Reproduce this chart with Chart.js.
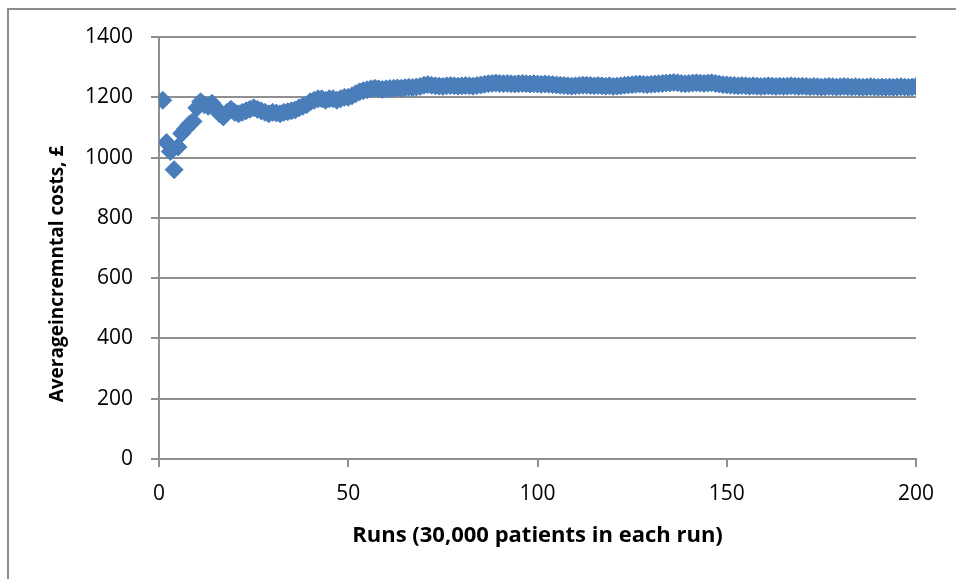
<!DOCTYPE html>
<html>
<head>
<meta charset="utf-8">
<script src="https://cdn.jsdelivr.net/npm/chart.js@4/dist/chart.umd.min.js"></script>
<style>
  html, body { margin: 0; padding: 0; background: #fff; overflow: hidden; }
  #wrap { position: relative; width: 956px; height: 579px; }
  #frame { position: absolute; left: 7px; top: 8px; width: 1000px; height: 700px;
           border-left: 2px solid #8c8c8c; border-top: 2px solid #8c8c8c; }
  canvas { position: absolute; left: 0; top: 0; }
</style>
</head>
<body>
<div id="wrap">
  <div id="frame"></div>
  <canvas id="chart" width="956" height="579"></canvas>
</div>
<script>
var runs = [
  1, 2, 3, 4, 5, 6, 7, 8, 9, 10, 11, 12, 13, 14, 15, 16, 17, 18, 19, 20,
  21, 22, 23, 24, 25, 26, 27, 28, 29, 30, 31, 32, 33, 34, 35, 36, 37, 38, 39, 40,
  41, 42, 43, 44, 45, 46, 47, 48, 49, 50, 51, 52, 53, 54, 55, 56, 57, 58, 59, 60,
  61, 62, 63, 64, 65, 66, 67, 68, 69, 70, 71, 72, 73, 74, 75, 76, 77, 78, 79, 80,
  81, 82, 83, 84, 85, 86, 87, 88, 89, 90, 91, 92, 93, 94, 95, 96, 97, 98, 99, 100,
  101, 102, 103, 104, 105, 106, 107, 108, 109, 110, 111, 112, 113, 114, 115, 116, 117, 118, 119, 120,
  121, 122, 123, 124, 125, 126, 127, 128, 129, 130, 131, 132, 133, 134, 135, 136, 137, 138, 139, 140,
  141, 142, 143, 144, 145, 146, 147, 148, 149, 150, 151, 152, 153, 154, 155, 156, 157, 158, 159, 160,
  161, 162, 163, 164, 165, 166, 167, 168, 169, 170, 171, 172, 173, 174, 175, 176, 177, 178, 179, 180,
  181, 182, 183, 184, 185, 186, 187, 188, 189, 190, 191, 192, 193, 194, 195, 196, 197, 198, 199, 200
];

// average incremental cost after each run
var avgCost = [
  1190, 1050, 1020, 960, 1035, 1080, 1095, 1110, 1120, 1165,
  1185, 1175, 1170, 1180, 1165, 1145, 1135, 1150, 1160, 1150,
  1145, 1150, 1155, 1160, 1165, 1160, 1155, 1150, 1145, 1150,
  1148, 1145, 1150, 1152, 1155, 1158, 1165, 1170, 1175, 1185,
  1190, 1195, 1195, 1190, 1195, 1195, 1190, 1195, 1200, 1200,
  1205, 1212, 1218, 1222, 1225, 1228, 1230, 1228, 1226, 1228,
  1229, 1230, 1231, 1230, 1232, 1233, 1232, 1234, 1236, 1240,
  1242, 1240, 1238, 1237, 1236, 1238, 1239, 1238, 1237, 1238,
  1239, 1238, 1237, 1239, 1241, 1243, 1245, 1246, 1247, 1246,
  1245, 1246, 1245, 1244, 1245, 1246, 1245, 1244, 1245, 1244,
  1243, 1244, 1243, 1242, 1241, 1240, 1239, 1238, 1237, 1238,
  1239, 1240, 1240, 1239, 1238, 1239, 1238, 1237, 1238, 1236,
  1237, 1238, 1240, 1241, 1242, 1243, 1244, 1243, 1242, 1243,
  1244, 1245, 1246, 1247, 1248, 1249, 1248, 1246, 1245, 1246,
  1247, 1248, 1247, 1246, 1247, 1248, 1246, 1244, 1242, 1241,
  1240, 1239, 1238, 1239, 1238, 1237, 1238, 1237, 1236, 1237,
  1238, 1237, 1236, 1237, 1236, 1237, 1238, 1237, 1236, 1237,
  1236, 1235, 1236, 1235, 1234, 1235, 1236, 1235, 1234, 1235,
  1236, 1235, 1234, 1235, 1234, 1233, 1234, 1235, 1234, 1233,
  1234, 1233, 1234, 1233, 1234, 1235, 1234, 1233, 1234, 1236
];

var xTitle = 'Runs (30,000 patients in each run)';
var yTitle = 'Averageincremntal costs, £';

var points = runs.map(function (r, i) { return { x: r, y: avgCost[i] }; });

var fontFamily = '"Liberation Sans Narrow", "Open Sans", sans-serif';
var gridColor = '#8f8f8f';

// y title sits a bit below the middle of the plot, like the original
var yTitlePlugin = {
  id: 'yTitle',
  afterDraw: function (chart) {
    var ctx = chart.ctx;
    ctx.save();
    ctx.translate(58, 274);
    ctx.rotate(-Math.PI / 2);
    ctx.font = 'bold 19px ' + fontFamily;
    ctx.fillStyle = '#000';
    ctx.textAlign = 'center';
    ctx.textBaseline = 'middle';
    ctx.fillText(yTitle, 0, 0);
    ctx.restore();
  }
};

new Chart(document.getElementById('chart'), {
  type: 'scatter',
  data: {
    datasets: [{
      data: points,
      pointStyle: 'rectRot',
      pointRadius: 9,
      pointHoverRadius: 9,
      borderWidth: 1,
      backgroundColor: '#4a7ebb',
      borderColor: '#4a7ebb'
    }]
  },
  options: {
    responsive: false,
    animation: false,
    layout: { padding: { left: 0, right: 40, top: 37, bottom: 0 } },
    plugins: { legend: { display: false }, tooltip: { enabled: false } },
    scales: {
      x: {
        type: 'linear',
        min: 0, max: 200,
        afterFit: function (s) { s.height = 120; },
        ticks: { stepSize: 50, padding: 14, color: '#000', maxRotation: 0,
                 font: { family: fontFamily, size: 21 } },
        grid: { drawOnChartArea: false, drawTicks: true, tickLength: 8, color: gridColor, lineWidth: 2 },
        border: { color: gridColor, width: 2 },
        title: { display: true, text: xTitle, color: '#000',
                 font: { family: fontFamily, size: 22, weight: 'bold' },
                 padding: { top: 0, bottom: 30 } }
      },
      y: {
        min: 0, max: 1400,
        afterFit: function (s) { s.width = 159; },
        ticks: { stepSize: 200, padding: 18, color: '#000',
                 font: { family: fontFamily, size: 21 },
                 callback: function (v) { return String(v); } },
        grid: { color: gridColor, lineWidth: 2, tickLength: 8 },
        border: { color: gridColor, width: 2 },
        title: { display: false }
      }
    }
  },
  plugins: [yTitlePlugin]
});
</script>
</body>
</html>
